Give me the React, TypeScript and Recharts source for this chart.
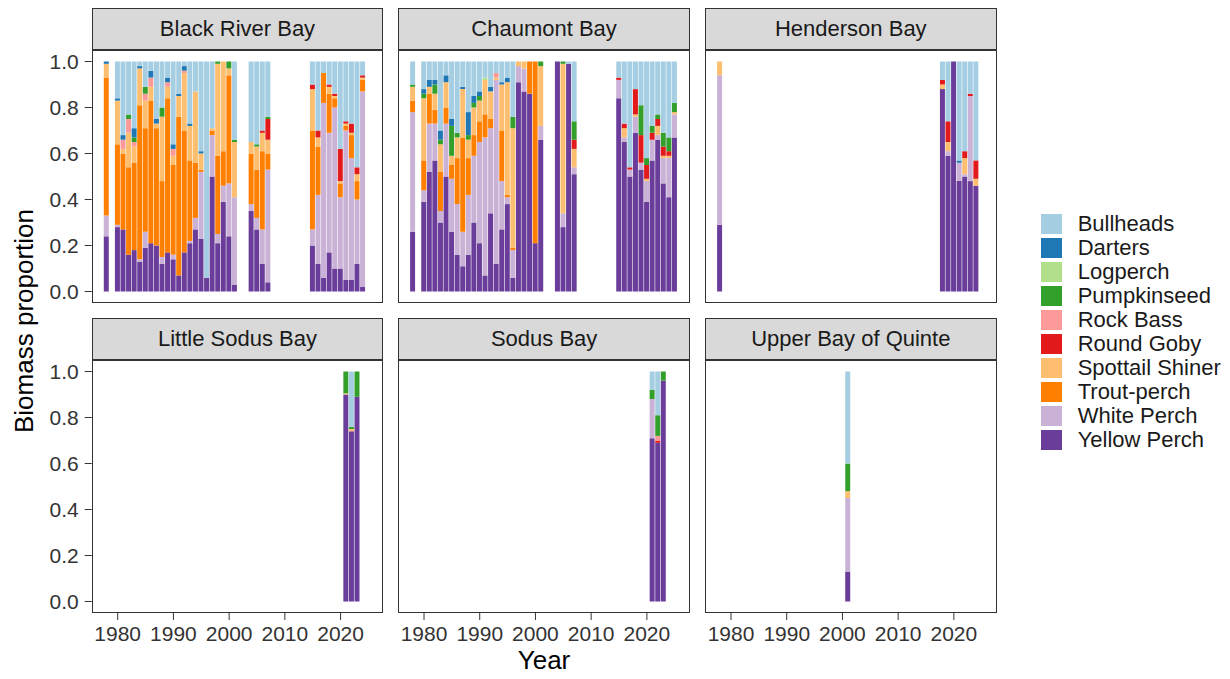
import React from "react";
import { BarChart, Bar, XAxis, YAxis } from "recharts";

// stack order, bottom -> top
const SPECIES = [
  "Yellow Perch",
  "White Perch",
  "Trout-perch",
  "Spottail Shiner",
  "Round Goby",
  "Rock Bass",
  "Pumpkinseed",
  "Logperch",
  "Darters",
  "Bullheads",
];
const COLORS = [
  "#6A3D9A",
  "#CAB2D6",
  "#FF7F00",
  "#FDBF6F",
  "#E31A1C",
  "#FB9A99",
  "#33A02C",
  "#B2DF8A",
  "#1F78B4",
  "#A6CEE3",
];

const X_TICKS = [1980, 1990, 2000, 2010, 2020];
const Y_TICKS = [0, 0.2, 0.4, 0.6, 0.8, 1.0];

// each row: year, then proportions in SPECIES order
const blackRiverBay = [
  [1978, 0.24, 0.09, 0.6, 0.06, 0, 0, 0, 0, 0.01, 0],
  [1980, 0.28, 0.01, 0.35, 0.19, 0, 0, 0, 0, 0.01, 0.16],
  [1981, 0.27, 0, 0.33, 0.02, 0, 0.04, 0, 0, 0.02, 0.32],
  [1982, 0.16, 0, 0.38, 0.15, 0, 0.06, 0.02, 0, 0, 0.23],
  [1983, 0.18, 0, 0.38, 0.07, 0, 0.02, 0.02, 0, 0.04, 0.29],
  [1984, 0.13, 0.01, 0.67, 0.16, 0, 0, 0, 0, 0.01, 0.02],
  [1985, 0.19, 0.07, 0.45, 0.12, 0, 0.03, 0.03, 0, 0, 0.11],
  [1986, 0.21, 0, 0.62, 0.06, 0, 0.04, 0, 0, 0.03, 0.04],
  [1987, 0.2, 0, 0.51, 0.02, 0, 0, 0, 0, 0.02, 0.25],
  [1988, 0.12, 0.03, 0.33, 0.28, 0, 0, 0.04, 0, 0, 0.2],
  [1989, 0.17, 0, 0.67, 0.05, 0, 0.02, 0, 0, 0.02, 0.07],
  [1990, 0.14, 0.02, 0.39, 0.04, 0, 0.03, 0, 0, 0.02, 0.36],
  [1991, 0.07, 0, 0.69, 0.09, 0, 0, 0, 0, 0.01, 0.14],
  [1992, 0.17, 0, 0.53, 0.25, 0, 0.01, 0, 0, 0.02, 0.02],
  [1993, 0.21, 0.01, 0.35, 0.15, 0, 0, 0, 0, 0.01, 0.27],
  [1994, 0.27, 0.05, 0.24, 0.31, 0, 0, 0, 0, 0, 0.13],
  [1995, 0.23, 0.29, 0.01, 0.07, 0, 0, 0, 0, 0.01, 0.39],
  [1996, 0.06, 0, 0, 0, 0, 0, 0, 0, 0, 0.94],
  [1997, 0.5, 0.18, 0.02, 0.01, 0, 0, 0, 0, 0, 0.29],
  [1998, 0.21, 0.04, 0.34, 0.4, 0, 0, 0.01, 0, 0, 0],
  [1999, 0.39, 0.07, 0.15, 0.39, 0, 0, 0, 0, 0, 0],
  [2000, 0.24, 0.23, 0.47, 0.03, 0, 0, 0.03, 0, 0, 0],
  [2001, 0.03, 0.38, 0, 0.24, 0, 0, 0.01, 0, 0, 0.34],
  [2004, 0.35, 0.03, 0.22, 0.05, 0, 0, 0, 0, 0, 0.35],
  [2005, 0.27, 0.05, 0.21, 0.1, 0, 0, 0.01, 0, 0, 0.36],
  [2006, 0.12, 0.15, 0.34, 0.08, 0.01, 0, 0, 0, 0, 0.3],
  [2007, 0.04, 0.49, 0.07, 0.06, 0.09, 0, 0.01, 0, 0, 0.24],
  [2015, 0.2, 0.07, 0.43, 0.18, 0.02, 0, 0, 0, 0, 0.1],
  [2016, 0.12, 0.3, 0.21, 0.04, 0.03, 0, 0, 0, 0, 0.3],
  [2017, 0.06, 0.76, 0.13, 0, 0, 0, 0, 0, 0, 0.05],
  [2018, 0.17, 0.52, 0.17, 0.03, 0.01, 0, 0, 0, 0, 0.1],
  [2019, 0.1, 0.7, 0.04, 0.01, 0.01, 0, 0, 0, 0, 0.14],
  [2020, 0.1, 0.31, 0.06, 0.01, 0.14, 0, 0, 0, 0, 0.38],
  [2021, 0.05, 0.65, 0.02, 0.01, 0.01, 0, 0, 0, 0, 0.26],
  [2022, 0.05, 0.53, 0.1, 0.01, 0.04, 0, 0, 0, 0, 0.27],
  [2023, 0.12, 0.28, 0.08, 0.03, 0.03, 0, 0, 0, 0, 0.46],
  [2024, 0.02, 0.85, 0.05, 0.01, 0.01, 0, 0, 0, 0, 0.06],
];

const chaumontBay = [
  [1978, 0.26, 0.52, 0.05, 0.06, 0, 0, 0.01, 0, 0, 0.1],
  [1980, 0.39, 0.05, 0.13, 0.27, 0, 0, 0.02, 0, 0.02, 0.12],
  [1981, 0.52, 0.21, 0.13, 0.03, 0, 0, 0, 0, 0.03, 0.08],
  [1982, 0.57, 0.16, 0.06, 0.07, 0, 0, 0.04, 0, 0.02, 0.08],
  [1983, 0.3, 0.05, 0.17, 0.12, 0, 0, 0.02, 0, 0.04, 0.3],
  [1984, 0.5, 0.23, 0.07, 0.11, 0, 0, 0, 0, 0.03, 0.06],
  [1985, 0.26, 0.23, 0.06, 0.04, 0, 0, 0.13, 0, 0.03, 0.25],
  [1986, 0.16, 0.22, 0.2, 0.09, 0, 0, 0.02, 0, 0, 0.31],
  [1987, 0.11, 0.15, 0.41, 0.21, 0, 0, 0, 0, 0.01, 0.11],
  [1988, 0.16, 0.26, 0.16, 0.08, 0, 0, 0.02, 0, 0.1, 0.22],
  [1989, 0.3, 0.29, 0.09, 0.12, 0, 0, 0.02, 0, 0.03, 0.15],
  [1990, 0.21, 0.44, 0.09, 0.09, 0, 0, 0.02, 0, 0.02, 0.13],
  [1991, 0.07, 0.6, 0.1, 0.15, 0, 0, 0, 0.01, 0, 0.07],
  [1992, 0.34, 0.37, 0.04, 0.12, 0, 0, 0, 0, 0.02, 0.11],
  [1993, 0.12, 0.8, 0, 0.01, 0, 0.02, 0, 0, 0, 0.05],
  [1994, 0.27, 0.21, 0.22, 0.2, 0, 0, 0, 0, 0.01, 0.09],
  [1995, 0.38, 0.03, 0.01, 0.49, 0, 0, 0, 0, 0.02, 0.07],
  [1996, 0.06, 0.12, 0.01, 0.52, 0, 0, 0.05, 0, 0, 0.24],
  [1997, 0.91, 0.07, 0, 0.02, 0, 0, 0, 0, 0, 0],
  [1998, 0.87, 0.1, 0, 0.03, 0, 0, 0, 0, 0, 0],
  [1999, 0.86, 0, 0.14, 0, 0, 0, 0, 0, 0, 0],
  [2000, 0.21, 0, 0.79, 0, 0, 0, 0, 0, 0, 0],
  [2001, 0.66, 0.06, 0, 0.26, 0, 0, 0.02, 0, 0, 0],
  [2004, 1, 0, 0, 0, 0, 0, 0, 0, 0, 0],
  [2005, 0.28, 0.06, 0, 0.65, 0, 0, 0.01, 0, 0, 0],
  [2006, 0.99, 0, 0, 0, 0, 0, 0, 0, 0, 0.01],
  [2007, 0.51, 0.03, 0, 0.08, 0.04, 0, 0.08, 0, 0, 0.26],
  [2015, 0.84, 0.08, 0, 0, 0.01, 0, 0, 0, 0, 0.07],
  [2016, 0.65, 0.02, 0, 0.04, 0.02, 0, 0, 0, 0, 0.27],
  [2017, 0.5, 0.03, 0, 0, 0.01, 0, 0, 0, 0, 0.46],
  [2018, 0.69, 0.07, 0, 0.01, 0.11, 0, 0, 0, 0, 0.12],
  [2019, 0.53, 0.03, 0, 0, 0.12, 0, 0.13, 0, 0, 0.19],
  [2020, 0.39, 0.09, 0, 0.01, 0.06, 0, 0.03, 0, 0, 0.42],
  [2021, 0.57, 0.09, 0, 0, 0.03, 0, 0.03, 0, 0, 0.28],
  [2022, 0.66, 0.02, 0, 0.04, 0.03, 0, 0.02, 0, 0, 0.23],
  [2023, 0.47, 0.11, 0, 0.01, 0.04, 0, 0.06, 0, 0, 0.31],
  [2024, 0.41, 0.17, 0, 0.01, 0.02, 0, 0.06, 0, 0, 0.33],
  [2025, 0.67, 0.1, 0, 0.01, 0, 0, 0.04, 0, 0, 0.18],
];

const hendersonBay = [
  [1978, 0.29, 0.65, 0, 0.06, 0, 0, 0, 0, 0, 0],
  [2018, 0.88, 0, 0, 0.02, 0.02, 0, 0, 0, 0, 0.08],
  [2019, 0.59, 0.02, 0, 0.04, 0.09, 0, 0, 0, 0, 0.26],
  [2020, 1, 0, 0, 0, 0, 0, 0, 0, 0, 0],
  [2021, 0.48, 0.08, 0, 0, 0, 0, 0, 0, 0.01, 0.43],
  [2022, 0.5, 0.01, 0, 0.07, 0.03, 0, 0, 0, 0, 0.39],
  [2023, 0.48, 0.37, 0, 0, 0.01, 0, 0, 0, 0, 0.14],
  [2024, 0.46, 0, 0, 0.03, 0.08, 0, 0, 0, 0, 0.43],
];

const littleSodusBay = [
  [2021, 0.9, 0, 0, 0.005, 0, 0, 0.095, 0, 0, 0],
  [2022, 0.74, 0, 0, 0.01, 0, 0, 0.01, 0, 0, 0.24],
  [2023, 0.89, 0, 0, 0, 0, 0, 0.11, 0, 0, 0],
];

const sodusBay = [
  [2021, 0.71, 0.17, 0, 0, 0, 0, 0.04, 0, 0, 0.08],
  [2022, 0.69, 0, 0, 0, 0.01, 0.02, 0.09, 0, 0, 0.19],
  [2023, 0.96, 0, 0, 0, 0, 0, 0.04, 0, 0, 0],
];

const upperBayOfQuinte = [
  [2001, 0.13, 0.32, 0, 0.03, 0, 0, 0.12, 0, 0, 0.4],
];

const PANELS = [
  { title: "Black River Bay", rows: blackRiverBay },
  { title: "Chaumont Bay", rows: chaumontBay },
  { title: "Henderson Bay", rows: hendersonBay },
  { title: "Little Sodus Bay", rows: littleSodusBay },
  { title: "Sodus Bay", rows: sodusBay },
  { title: "Upper Bay of Quinte", rows: upperBayOfQuinte },
];

const FONT = '"Liberation Sans", Arial, sans-serif';
const PANEL_W = 291.6;
const PANEL_H = 253;
const STRIP_H = 41.7;
const COL_X = [91.7, 398.3, 705];
const ROW_Y = [50, 360];
const Y_AXIS_W = 91.7;
const X_AXIS_H = 50;
const X_DOMAIN = [1975.33, 2027.67];

const allYears = PANELS.flatMap((p) => p.rows.map((r) => r[0]));
const firstYear = Math.min(...allYears);
const lastYear = Math.max(...allYears);

// one row per year so every panel gets the same band width; stacks filled to 1
function buildData(rows: number[][]) {
  const out: Record<string, number>[] = [];
  for (let y = firstYear; y <= lastYear; y++) {
    const r = rows.find((row) => row[0] === y);
    const d: Record<string, number> = { year: y };
    if (r) {
      const vals = r.slice(1);
      const total = vals.reduce((a, b) => a + b, 0);
      SPECIES.forEach((s, i) => {
        d[s] = vals[i] / total;
      });
    }
    out.push(d);
  }
  return out;
}

const tickStyle = { fill: "#333333", fontSize: 21, fontFamily: FONT };

function Facet({ title, rows, col, row }: { title: string; rows: number[][]; col: number; row: number }) {
  const left = COL_X[col];
  const top = ROW_Y[row];
  const showY = col === 0;
  const showX = row === 1;
  const yW = showY ? Y_AXIS_W : 0;
  const xH = showX ? X_AXIS_H : 0;
  const data = buildData(rows);
  return (
    <>
      <div
        style={{
          position: "absolute",
          left,
          top: top - STRIP_H,
          width: PANEL_W,
          height: STRIP_H,
          boxSizing: "border-box",
          background: "#D9D9D9",
          border: "1px solid #333333",
          display: "flex",
          alignItems: "center",
          justifyContent: "center",
          fontSize: 22,
          color: "#1A1A1A",
        }}
      >
        {title}
      </div>
      <div style={{ position: "absolute", left: left - yW, top }}>
        <BarChart
          width={PANEL_W + yW}
          height={PANEL_H + xH}
          data={data}
          margin={{ top: 0, right: 0, bottom: 0, left: 0 }}
          barSize={5}
        >
          <XAxis
            type="number"
            dataKey="year"
            domain={X_DOMAIN}
            ticks={X_TICKS}
            interval={0}
            hide={!showX}
            height={xH}
            axisLine={false}
            tickSize={7}
            tickMargin={6}
            tickLine={{ stroke: "#333333" }}
            tick={tickStyle}
          />
          <YAxis
            type="number"
            domain={[-0.05, 1.05]}
            ticks={Y_TICKS}
            interval={0}
            hide={!showY}
            width={yW}
            axisLine={false}
            tickSize={7}
            tickMargin={6}
            tickLine={{ stroke: "#333333" }}
            tick={tickStyle}
            tickFormatter={(v: number) => v.toFixed(1)}
          />
          {SPECIES.map((s, i) => (
            <Bar key={s} dataKey={s} stackId="a" fill={COLORS[i]} barSize={5} isAnimationActive={false} />
          ))}
        </BarChart>
      </div>
      <div
        style={{
          position: "absolute",
          left,
          top,
          width: PANEL_W,
          height: PANEL_H,
          boxSizing: "border-box",
          border: "1px solid #333333",
          pointerEvents: "none",
        }}
      />
    </>
  );
}

export default function App() {
  const legendItems = SPECIES.map((s, i) => ({ name: s, color: COLORS[i] })).reverse();
  return (
    <div
      style={{
        position: "absolute",
        left: 0,
        top: 0,
        width: 1230,
        height: 679,
        background: "#ffffff",
        fontFamily: FONT,
        overflow: "hidden",
      }}
    >
      {PANELS.map((p, i) => (
        <Facet key={p.title} title={p.title} rows={p.rows} col={i % 3} row={Math.floor(i / 3)} />
      ))}

      <div
        style={{
          position: "absolute",
          left: 24,
          top: 321,
          transform: "translate(-50%, -50%) rotate(-90deg)",
          whiteSpace: "nowrap",
          fontSize: 26,
          color: "#000000",
        }}
      >
        Biomass proportion
      </div>
      <div
        style={{
          position: "absolute",
          left: 544,
          top: 660,
          transform: "translate(-50%, -50%)",
          whiteSpace: "nowrap",
          fontSize: 26,
          color: "#000000",
        }}
      >
        Year
      </div>

      {legendItems.map((it, i) => (
        <div
          key={it.name}
          style={{ position: "absolute", left: 1041, top: 214 + i * 24, height: 20, display: "flex", alignItems: "center" }}
        >
          <div style={{ width: 20.7, height: 20, background: it.color }} />
          <div style={{ marginLeft: 16, fontSize: 22, lineHeight: "20px", color: "#1A1A1A", whiteSpace: "nowrap" }}>
            {it.name}
          </div>
        </div>
      ))}
    </div>
  );
}
